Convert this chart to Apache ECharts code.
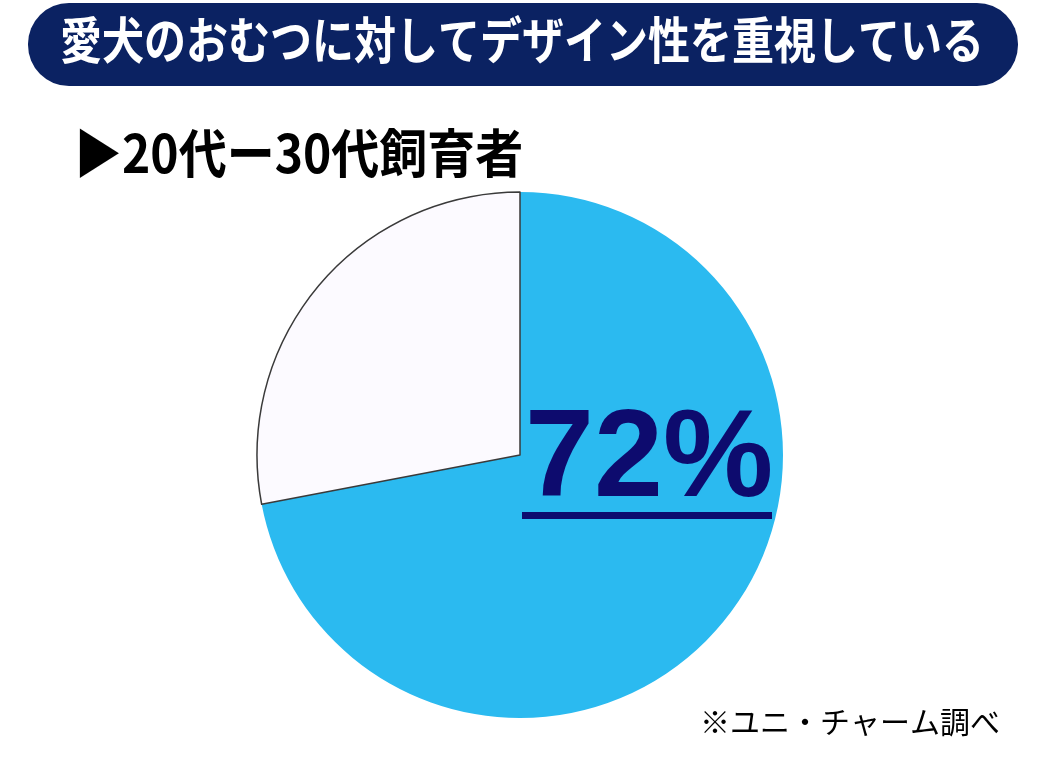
<!DOCTYPE html>
<html><head><meta charset="utf-8">
<script src="https://cdn.jsdelivr.net/npm/echarts@6/dist/echarts.min.js"></script>
<style>html,body{margin:0;padding:0;background:#fff}#c{width:1040px;height:778px}</style>
</head><body><div id="c"></div>
<script>
const titleText = '愛犬のおむつに対してデザイン性を重視している';
const subtitleText = '▶20代ー30代飼育者';
const sourceText = '※ユニ・チャーム調べ';
const categories = ['重視している', 'その他'];
const values = [72, 28];
const labelText = '72%';

const chart = echarts.init(document.getElementById('c'));
const font = '"Noto Sans CJK JP", "Noto Sans", sans-serif';
chart.setOption({
  backgroundColor: '#ffffff',
  animation: false,
  graphic: [
    { type: 'rect', shape: { x: 28, y: 3, width: 990, height: 83, r: 41 },
      style: { fill: '#0b2262' } },
    { type: 'text', x: 522, y: 49, scaleY: 1.18, originX: 522, originY: 49,
      style: { text: titleText, fill: '#ffffff', font: 'bold 42px ' + font,
               align: 'center', verticalAlign: 'middle' } },
    { type: 'text', x: 74, y: 170, scaleY: 1.1, originX: 74, originY: 170,
      style: { text: subtitleText, fill: '#000000', font: 'bold 48px ' + font,
               verticalAlign: 'middle' } },
    { type: 'text', x: 700, y: 722,
      style: { text: sourceText, fill: '#000000', font: '30px ' + font, verticalAlign: 'middle' } },
    { type: 'text', left: 525, top: 400, z: 10,
      style: { text: labelText, fill: '#0d0b6e', font: 'bold 124px Arial, "Liberation Sans", sans-serif' } },
    { type: 'rect', z: 10, shape: { x: 522, y: 512, width: 250, height: 7 },
      style: { fill: '#0d0b6e' } }
  ],
  series: [{
    type: 'pie',
    center: [520, 455],
    radius: [0, 263],
    startAngle: 90,
    clockwise: true,
    label: { show: false },
    labelLine: { show: false },
    emphasis: { disabled: true },
    data: categories.map((c, i) => ({
      name: c, value: values[i],
      itemStyle: i === 0
        ? { color: '#2bbaf0', borderWidth: 0 }
        : { color: '#fcfaff', borderColor: '#3a3a3a', borderWidth: 1.5 }
    }))
  }]
});
</script></body></html>
